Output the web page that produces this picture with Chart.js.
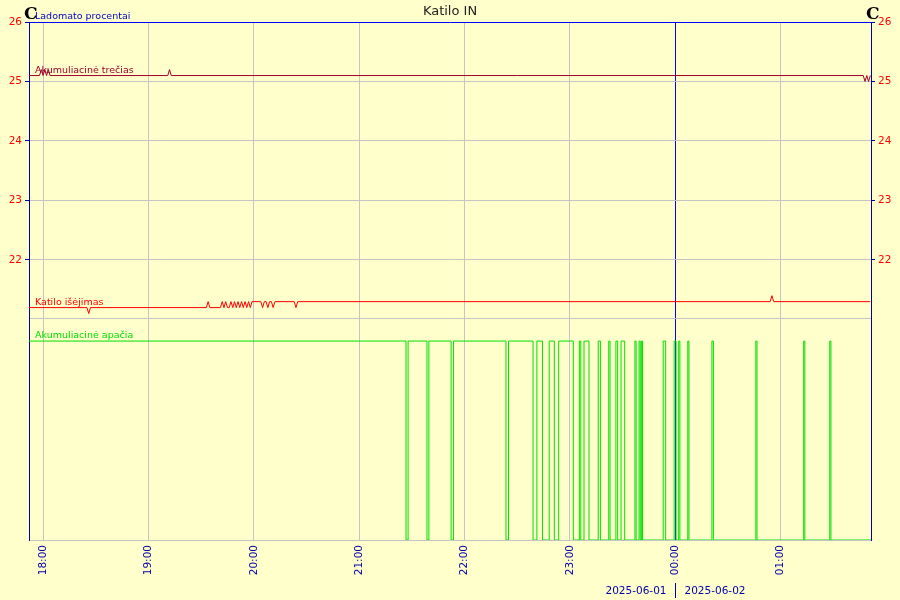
<!DOCTYPE html>
<html>
<head>
<meta charset="utf-8">
<title>Katilo IN</title>
<script src="https://cdn.jsdelivr.net/npm/chart.js@4.4.1/dist/chart.umd.min.js"></script>
<style>
  html, body { margin: 0; padding: 0; background: #ffffcc; }
</style>
</head>
<body>
<canvas id="katilas" width="900" height="600"></canvas>
<script>
// laiko intervalas ir asies zymes
const rangeStart = "17:52:00";
const rangeEnd = "01:51:24";
const xTicks = ["18:00", "19:00", "20:00", "21:00", "22:00", "23:00", "00:00", "01:00"];
const yTicks = [22, 23, 24, 25, 26];
const dates = ["2025-06-01", "2025-06-02"];

// Akumuliacinė trečias
const trecTimes = ["17:52", "17:58", "17:59", "18:00", "18:01", "18:02", "18:03", "18:04",
  "19:11", "19:12", "19:13", "01:47", "01:48", "01:49", "01:50", "01:51"];
const trecValues = [25.1, 25.1, 25.2, 25.1, 25.2, 25.1, 25.2, 25.1,
  25.1, 25.2, 25.1, 25.1, 25.0, 25.1, 25.0, 25.1];

// Katilo išėjimas
const isejTimes = ["17:52", "18:25", "18:26", "18:27", "19:33", "19:34", "19:35",
  "19:41", "19:42", "19:43", "19:44", "19:45", "19:46", "19:47", "19:48", "19:49", "19:50",
  "19:51", "19:52", "19:53", "19:54", "19:55", "19:56", "19:57", "19:58", "19:59",
  "20:04", "20:05", "20:06", "20:07", "20:08", "20:09", "20:10", "20:11", "20:12",
  "20:23", "20:24", "20:25", "00:54", "00:55", "00:56", "01:51"];
const isejValues = [21.2, 21.2, 21.1, 21.2, 21.2, 21.3, 21.2,
  21.2, 21.3, 21.2, 21.3, 21.2, 21.2, 21.3, 21.2, 21.3, 21.2,
  21.3, 21.2, 21.3, 21.2, 21.3, 21.2, 21.3, 21.2, 21.3,
  21.3, 21.2, 21.3, 21.3, 21.2, 21.3, 21.3, 21.2, 21.3,
  21.3, 21.2, 21.3, 21.3, 21.4, 21.3, 21.3];

// Akumuliacinė apačia (procentai, laiptuota)
const apacTimes = ["17:52:00", "21:26:40", "21:27:50", "21:38:35", "21:39:40", "21:52:20", "21:53:40",
  "22:23:35", "22:25:00", "22:39:00", "22:41:10", "22:44:20", "22:48:10", "22:51:05", "22:53:35",
  "23:01:55", "23:05:20", "23:06:10", "23:08:00", "23:10:50", "23:16:05", "23:17:20", "23:22:05",
  "23:22:50", "23:26:10", "23:27:10", "23:29:05", "23:31:10", "23:37:00", "23:37:40", "23:39:20",
  "23:40:00", "23:40:40", "23:41:20", "23:53:05", "23:54:30", "23:59:20", "00:00:25", "00:01:55",
  "00:02:35", "00:07:05", "00:07:45", "00:20:50", "00:21:40", "00:45:50", "00:46:30", "01:13:05",
  "01:13:45", "01:27:55", "01:28:35", "01:51:24"];
const apacValues = [100, 0, 100, 0, 100, 0, 100,
  0, 100, 0, 100, 0, 100, 0, 100,
  0, 100, 0, 100, 0, 100, 0, 100,
  0, 100, 0, 100, 0, 100, 0, 100,
  0, 100, 0, 100, 0, 100, 0, 100,
  0, 100, 0, 100, 0, 100, 0, 100,
  0, 100, 0, 0];

// minutes nuo 18:00 (po vidurnakcio - kita diena)
function toMin(t) {
  const p = t.split(":").map(Number);
  let h = p[0];
  if (h < 12) h += 24;
  return (h - 18) * 60 + p[1] + (p[2] || 0) / 60;
}

function points(times, values) {
  return times.map((t, i) => ({x: toMin(t), y: values[i]}));
}

const NAVY = '#0000a8';
const BLUE = '#0000ff';
const GRID = '#c4c4c4';
const TEMP_MIN = 21.025;
const PROC_MAX = 111.6;
const midnight = toMin("00:00");

const dekoras = {
  id: 'dekoras',
  beforeDraw(chart) {
    const ctx = chart.ctx;
    ctx.save();
    ctx.fillStyle = '#ffffcc';
    ctx.fillRect(0, 0, chart.width, chart.height);
    ctx.restore();
  },
  afterDatasetsDraw(chart) {
    const ctx = chart.ctx;
    const area = chart.chartArea;
    ctx.save();
    ctx.font = '9.5px "DejaVu Sans"';
    ctx.textAlign = 'left';
    ctx.textBaseline = 'alphabetic';
    chart.data.datasets.forEach(ds => {
      const y = chart.scales[ds.yAxisID].getPixelForValue(ds.data[0].y);
      ctx.fillStyle = ds.borderColor;
      ctx.fillText(ds.label, area.left + 6, y - 3);
    });
    ctx.restore();
  },
  afterDraw(chart) {
    const ctx = chart.ctx;
    const area = chart.chartArea;
    ctx.save();
    ctx.fillStyle = '#000';
    ctx.font = 'bold 17px "DejaVu Serif"';
    ctx.textBaseline = 'alphabetic';
    ctx.textAlign = 'left';
    ctx.fillText('C', area.left - 5, 19);
    ctx.fillText('C', area.right - 5, 19);

    ctx.fillStyle = '#0000c0';
    ctx.font = '9.5px "DejaVu Sans"';
    ctx.fillText('Ladomato procentai', area.left + 6, 19);

    // datos juosta
    const mx = Math.round(chart.scales.x.getPixelForValue(midnight)) + 0.5;
    ctx.fillStyle = NAVY;
    ctx.font = '10.5px "DejaVu Sans"';
    ctx.textBaseline = 'middle';
    ctx.textAlign = 'right';
    ctx.fillText(dates[0], mx - 9, 591);
    ctx.textAlign = 'left';
    ctx.fillText(dates[1], mx + 9, 591);
    ctx.strokeStyle = NAVY;
    ctx.lineWidth = 1;
    ctx.beginPath();
    ctx.moveTo(mx, 583);
    ctx.lineTo(mx, 598);
    ctx.stroke();
    ctx.restore();
  }
};

const tempTicks = scale => { scale.ticks = yTicks.map(v => ({value: v})); };
const procTicks = scale => { scale.ticks = [{value: PROC_MAX}]; };
const fixWidth = scale => { scale.width = 29; };

new Chart(document.getElementById('katilas'), {
  type: 'line',
  data: {
    datasets: [
      {
        label: 'Akumuliacinė trečias',
        data: points(trecTimes, trecValues),
        borderColor: '#a0002a',
        yAxisID: 'y'
      },
      {
        label: 'Katilo išėjimas',
        data: points(isejTimes, isejValues),
        borderColor: '#ff0000',
        yAxisID: 'y'
      },
      {
        label: 'Akumuliacinė apačia',
        data: points(apacTimes, apacValues),
        borderColor: '#00e000',
        stepped: true,
        yAxisID: 'yP'
      }
    ]
  },
  options: {
    responsive: false,
    animation: false,
    layout: { padding: 0 },
    elements: {
      line: { borderWidth: 1, tension: 0, fill: false },
      point: { radius: 0, hoverRadius: 0 }
    },
    plugins: {
      legend: { display: false },
      tooltip: { enabled: false },
      title: {
        display: true,
        text: 'Katilo IN',
        color: '#222',
        font: { family: 'DejaVu Sans', size: 13, weight: 'normal', lineHeight: 1.2 },
        padding: { top: 4, bottom: 2.4 }
      }
    },
    scales: {
      x: {
        type: 'linear',
        min: toMin(rangeStart),
        max: toMin(rangeEnd),
        afterBuildTicks: scale => { scale.ticks = xTicks.map(t => ({value: toMin(t)})); },
        afterFit: scale => { scale.height = 60; },
        ticks: {
          autoSkip: false,
          minRotation: 90,
          maxRotation: 90,
          padding: 5,
          color: NAVY,
          font: { family: 'DejaVu Sans', size: 10.5 },
          callback: (v, i) => xTicks[i]
        },
        grid: {
          drawTicks: false,
          color: c => (c.tick && c.tick.value === midnight) ? BLUE : GRID
        },
        border: { color: GRID }
      },
      y: {
        type: 'linear',
        position: 'left',
        stack: 'kaire',
        stackWeight: 296,
        weight: 1,
        min: TEMP_MIN,
        max: 26,
        afterBuildTicks: tempTicks,
        afterFit: fixWidth,
        ticks: {
          color: '#ff0000',
          padding: 3,
          font: { family: 'DejaVu Sans', size: 10.5 }
        },
        grid: {
          color: c => (c.tick && c.tick.value === 26) ? BLUE : GRID,
          tickColor: NAVY,
          tickLength: 4
        },
        border: { color: NAVY }
      },
      yP: {
        type: 'linear',
        position: 'left',
        stack: 'kaire',
        stackWeight: 222,
        weight: 0,
        min: 0,
        max: PROC_MAX,
        afterBuildTicks: procTicks,
        afterFit: fixWidth,
        ticks: { display: false },
        grid: { color: GRID, drawTicks: false },
        border: { color: NAVY }
      },
      yR: {
        type: 'linear',
        position: 'right',
        stack: 'desine',
        stackWeight: 296,
        weight: 0,
        min: TEMP_MIN,
        max: 26,
        afterBuildTicks: tempTicks,
        afterFit: fixWidth,
        ticks: {
          color: '#ff0000',
          padding: 3,
          font: { family: 'DejaVu Sans', size: 10.5 }
        },
        grid: { drawOnChartArea: false, tickColor: NAVY, tickLength: 4 },
        border: { color: NAVY }
      },
      yPR: {
        type: 'linear',
        position: 'right',
        stack: 'desine',
        stackWeight: 222,
        weight: 1,
        min: 0,
        max: PROC_MAX,
        afterBuildTicks: procTicks,
        afterFit: fixWidth,
        ticks: { display: false },
        grid: { display: false },
        border: { color: NAVY }
      }
    }
  },
  plugins: [dekoras]
});
</script>
</body>
</html>
